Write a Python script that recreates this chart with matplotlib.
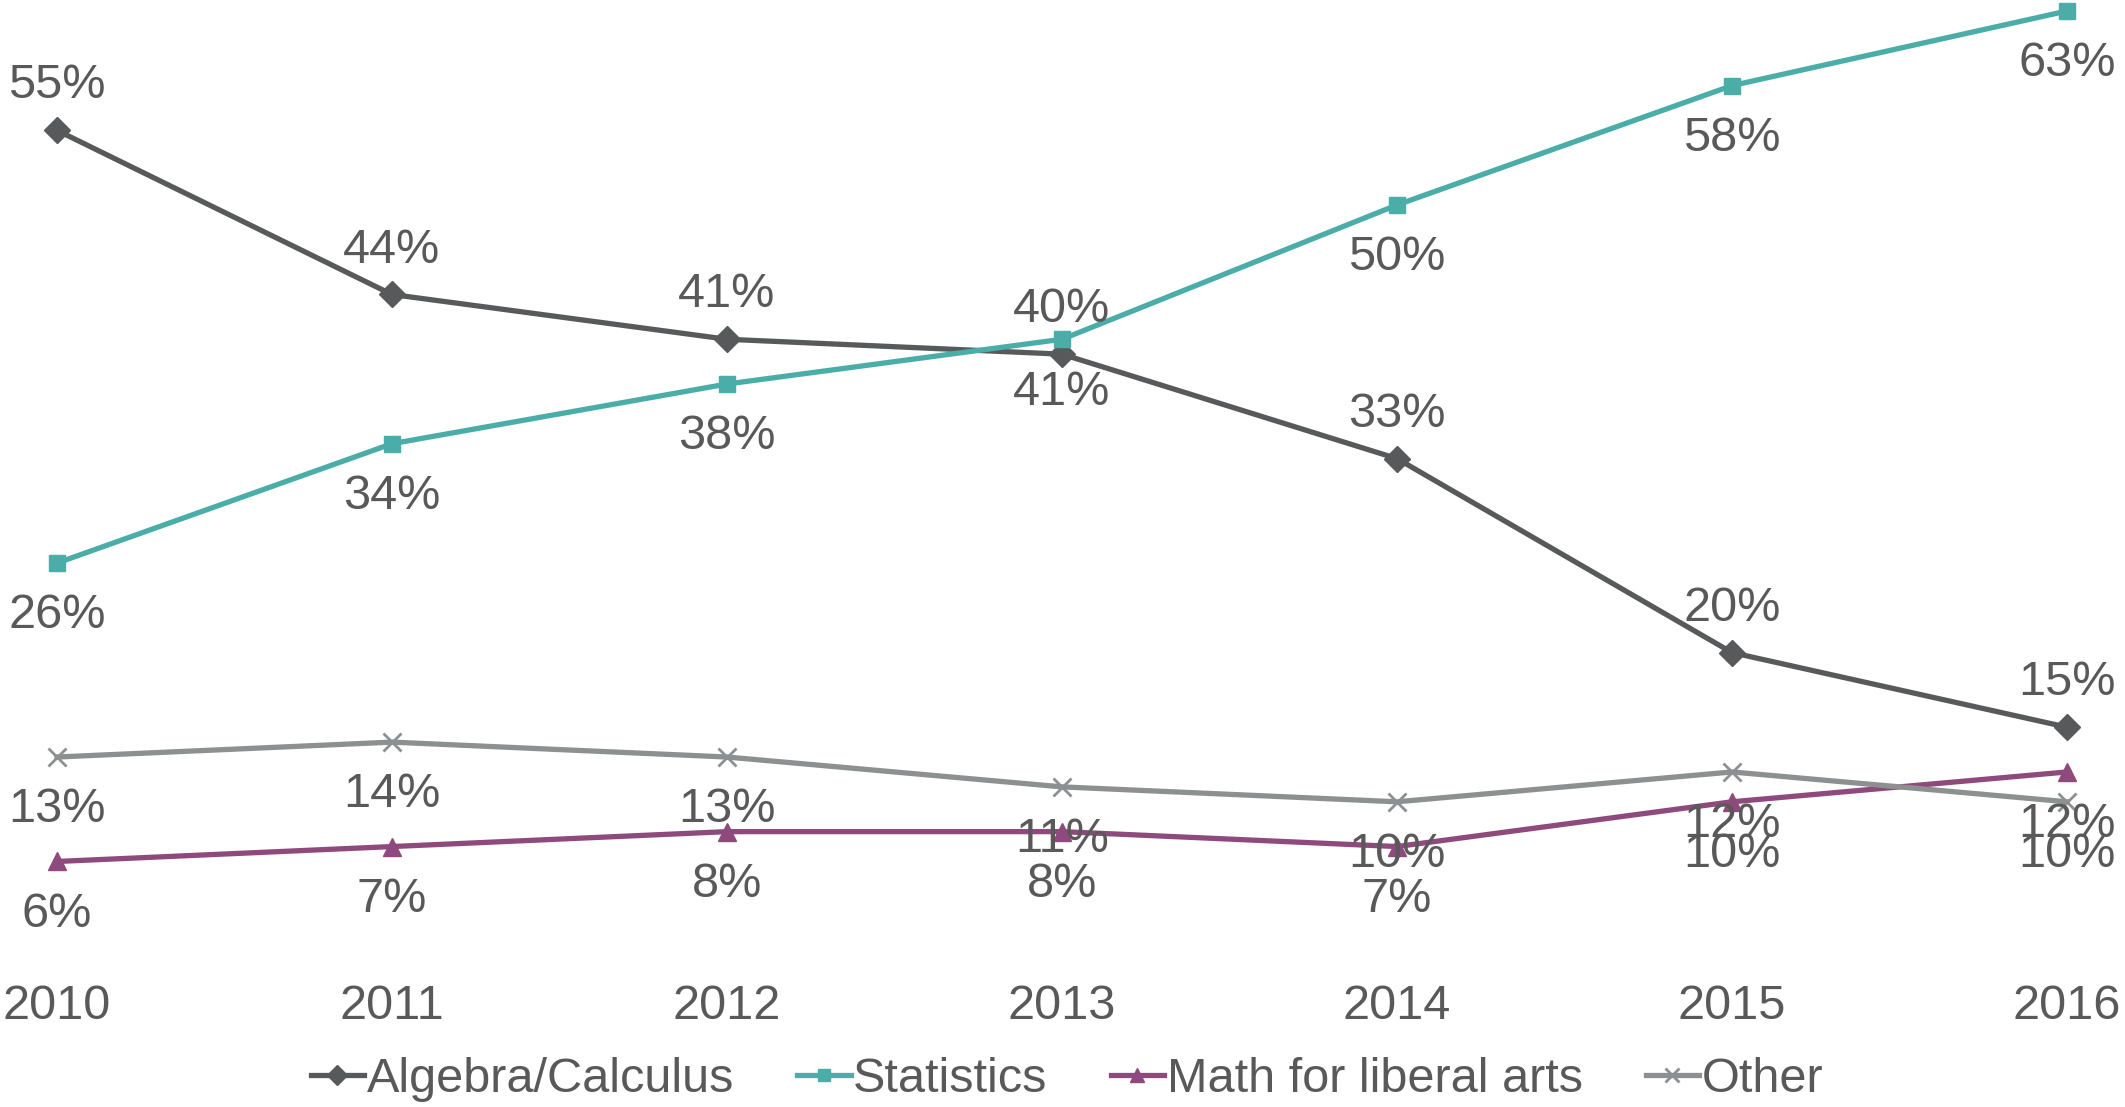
import matplotlib.pyplot as plt
from matplotlib import font_manager

years = ['2010', '2011', '2012', '2013', '2014', '2015', '2016']
algebra = [55, 44, 41, 40, 33, 20, 15]
statistics = [26, 34, 38, 41, 50, 58, 63]
liberal_arts = [6, 7, 8, 8, 7, 10, 12]
other = [13, 14, 13, 11, 10, 12, 10]

names = [f.name for f in font_manager.fontManager.ttflist]
narrow = 'Liberation Sans Narrow' if 'Liberation Sans Narrow' in names else 'Liberation Sans'
plt.rcParams['font.family'] = ['Liberation Sans', 'DejaVu Sans']

txt = '#595959'
series = [
    ('Algebra/Calculus', algebra, '#58595b', 'D', 13, 'above'),
    ('Statistics', statistics, '#4bada8', 's', 12, 'below'),
    ('Math for liberal arts', liberal_arts, '#8e4a7c', '^', 13, 'below'),
    ('Other', other, '#8c9090', 'x', 13, 'below'),
]

fig = plt.figure(figsize=(21.25, 11.07), dpi=100)
ax = fig.add_axes([57 / 2125, 156 / 1107, 2010 / 2125, 940 / 1107])
x = list(range(len(years)))

for name, vals, color, mk, ms, pos in series:
    ax.plot(x, vals, color=color, lw=3.8, marker=mk, ms=ms,
            mew=2 if mk == 'x' else 1, label=name, clip_on=False)
    dy = 32 if pos == 'above' else -38
    for xi, v in zip(x, vals):
        ax.annotate(f'{v}%', (xi, v), xytext=(0, dy), textcoords='offset points',
                    ha='center', va='center', fontsize=35, color=txt)

ax.set_xlim(0, 6)
ax.set_ylim(0, 63)
ax.set_xticks(x)
ax.set_xticklabels(years, fontsize=35, color=txt, family=narrow)
ax.tick_params(axis='x', length=0, pad=24)
ax.set_yticks([])
for s in ax.spines.values():
    s.set_visible(False)

leg = ax.legend(loc='center', bbox_to_anchor=(1067 / 2125, 1 - 1080 / 1107),
                bbox_transform=fig.transFigure, ncol=4, frameon=False,
                handlelength=1.1, handletextpad=0.05, columnspacing=1.3,
                prop={'family': narrow, 'size': 35}, markerscale=0.75)
for t in leg.get_texts():
    t.set_color(txt)

fig.savefig('out.png', dpi=100)
